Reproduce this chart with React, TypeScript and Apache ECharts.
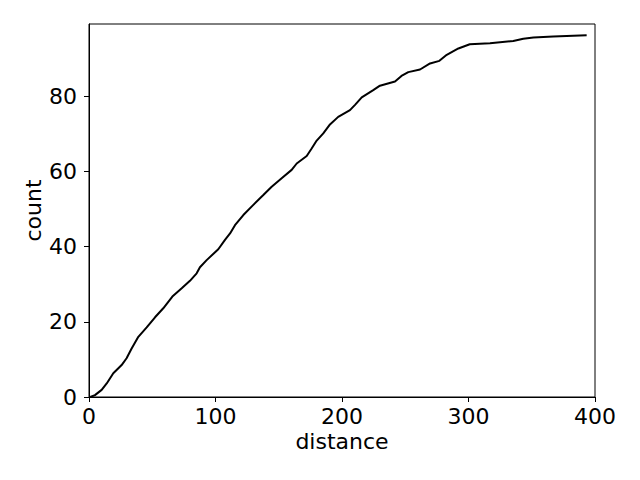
import React, { useEffect, useRef } from "react";
import * as echarts from "echarts";

const distance = [1, 4.7, 10, 14, 19.2, 25.8, 29.7, 33.7, 39, 45.6, 52.2, 58.7, 65.9, 73.3, 79.8, 85.1, 87.7, 93, 102.2, 107.5, 111.5, 115.4, 122, 129.9, 137.8, 144.4, 152.3, 160.2, 164.2, 172.1, 176, 180, 185.2, 190.5, 197, 206.3, 210.3, 215.6, 224.7, 230, 241.9, 247, 252.4, 261.7, 269.6, 277, 282.8, 292, 301, 317, 335.4, 343.3, 351.3, 367, 393.4];
const count = [0, 0.5, 1.9, 3.6, 6.3, 8.5, 10.3, 12.9, 16, 18.5, 21.2, 23.6, 26.7, 28.9, 30.9, 32.9, 34.5, 36.4, 39.3, 41.8, 43.5, 45.7, 48.4, 51.1, 53.7, 55.9, 58.2, 60.4, 62.1, 64.1, 66.1, 68.2, 70.1, 72.5, 74.5, 76.3, 77.7, 79.7, 81.6, 82.8, 83.9, 85.4, 86.4, 87.1, 88.7, 89.4, 91, 92.7, 93.8, 94.1, 94.7, 95.3, 95.6, 95.9, 96.2];

const FONT = "DejaVu Sans";
const FS = 22;

export default function App() {
  const ref = useRef<HTMLDivElement>(null);
  useEffect(() => {
    if (!ref.current) return;
    const chart = echarts.init(ref.current, null, { renderer: "svg" });
    const data = distance.map((d, i) => [d, count[i]]);
    chart.setOption({
      animation: false,
      backgroundColor: "#ffffff",
      grid: {
        left: 89,
        top: 24,
        right: 45,
        bottom: 83,
        show: true,
        borderColor: "#000",
        borderWidth: 1,
        backgroundColor: "transparent",
      },
      xAxis: {
        type: "value",
        min: 0,
        max: 400,
        interval: 100,
        name: "distance",
        nameLocation: "middle",
        nameGap: 33,
        nameMoveOverlap: false,
        nameTextStyle: { fontFamily: FONT, fontSize: FS, color: "#000" },
        axisLine: { show: true, onZero: false, lineStyle: { color: "#000", width: 1 } },
        axisTick: { show: true, inside: false, length: 5, lineStyle: { color: "#000" } },
        axisLabel: { margin: 8, fontFamily: FONT, fontSize: FS, color: "#000" },
        splitLine: { show: false },
      },
      yAxis: {
        type: "value",
        min: 0,
        max: 99.2,
        interval: 20,
        name: "count",
        nameLocation: "middle",
        nameGap: 45,
        nameMoveOverlap: false,
        nameTextStyle: { fontFamily: FONT, fontSize: FS, color: "#000" },
        axisLine: { show: true, onZero: false, lineStyle: { color: "#000", width: 1 } },
        axisTick: { show: true, inside: false, length: 5, lineStyle: { color: "#000" } },
        axisLabel: { margin: 12, fontFamily: FONT, fontSize: FS, color: "#000", showMaxLabel: false },
        splitLine: { show: false },
      },
      series: [
        {
          type: "line",
          data,
          showSymbol: false,
          symbol: "none",
          lineStyle: { color: "#000", width: 2 },
          smooth: false,
        },
      ],
    });
    return () => chart.dispose();
  }, []);
  return <div ref={ref} style={{ width: 640, height: 480, position: "absolute", left: 0, top: 0 }} />;
}
